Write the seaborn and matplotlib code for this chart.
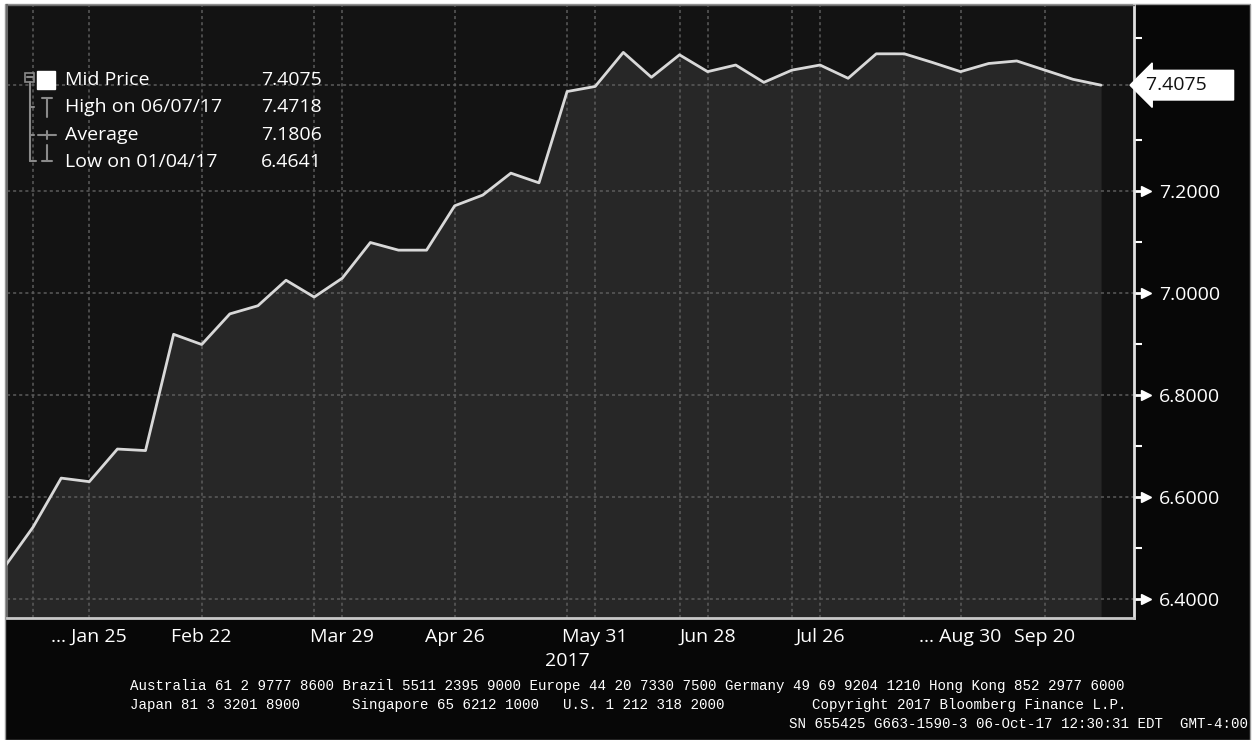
import pandas as pd
import seaborn as sns
import matplotlib.pyplot as plt
import matplotlib.dates as mdates
import matplotlib.transforms as mtransforms
from matplotlib.lines import Line2D
from matplotlib.patches import Rectangle
from matplotlib.ticker import FixedLocator, MultipleLocator

# weekly mid price, 04 Jan 2017 .. 04 Oct 2017
mid_price = [6.4641, 6.541, 6.637, 6.630, 6.694, 6.691, 6.919, 6.899, 6.959, 6.975,
             7.025, 6.992, 7.029, 7.099, 7.084, 7.084, 7.171, 7.192, 7.235, 7.216,
             7.395, 7.405, 7.4718, 7.423, 7.467, 7.434, 7.447, 7.413, 7.437, 7.447,
             7.421, 7.469, 7.469, 7.452, 7.434, 7.450, 7.455, 7.437, 7.419, 7.4075]
dates = pd.date_range("2017-01-04", periods=len(mid_price), freq="7D")

tick_dates = ["2017-01-25", "2017-02-22", "2017-03-29", "2017-04-26", "2017-05-31",
              "2017-06-28", "2017-07-26", "2017-08-30", "2017-09-20"]
tick_labels = ["... Jan 25", "Feb 22", "Mar 29", "Apr 26", "May 31",
               "Jun 28", "Jul 26", "... Aug 30", "Sep 20"]
grid_weeks = [1, 3, 7, 11, 12, 16, 20, 21, 24, 25, 28, 29, 32, 34, 37]
minor_weeks = [1, 2, 3, 5, 7, 9, 11, 12, 14, 16, 18, 20, 21, 22, 24, 25, 26,
               28, 29, 30, 32, 34, 35, 37, 39]
y_ticks = [6.4, 6.6, 6.8, 7.0, 7.2]
last_price = 7.4075

legend_names = ["Mid Price", "High on 06/07/17", "Average", "Low on 01/04/17"]
legend_values = ["7.4075", "7.4718", "7.1806", "6.4641"]

footer_1 = "Australia 61 2 9777 8600 Brazil 5511 2395 9000 Europe 44 20 7330 7500 Germany 49 69 9204 1210 Hong Kong 852 2977 6000"
footer_2 = ["Japan 81 3 3201 8900", "Singapore 65 6212 1000", "U.S. 1 212 318 2000",
            "Copyright 2017 Bloomberg Finance L.P."]
footer_3 = "SN 655425 G663-1590-3 06-Oct-17 12:30:31 EDT  GMT-4:00"

sns.set_style("dark")
plt.rcParams["font.family"] = ["Open Sans", "DejaVu Sans"]

W, H = 1258, 740
fig = plt.figure(figsize=(W / 100, H / 100), dpi=100, facecolor="white")


def fx(x):
    return x / W


def fy(y):
    return 1 - y / H


def seg(x0, y0, x1, y1, color="#8a8a8a", lw=1.5):
    fig.add_artist(Line2D([fx(x0), fx(x1)], [fy(y0), fy(y1)], transform=fig.transFigure,
                          color=color, lw=lw))


# black terminal background
fig.add_artist(Rectangle((fx(5), 0), fx(1250) - fx(5), fy(4), transform=fig.transFigure,
                         fc="#070707", ec="#9a9a9a", lw=1, zorder=-10))

ax = fig.add_axes([fx(7), fy(618), fx(1134) - fx(7), fy(5) - fy(618)])
ax.set_facecolor("#131313")

ymin, ymax = 6.3627, 7.5647
ax.fill_between(dates, mid_price, ymin, color="#272727", lw=0, zorder=1)
sns.lineplot(x=dates, y=mid_price, ax=ax, color="#d8d8d8", lw=2, zorder=4)

for y in y_ticks + [last_price]:
    ax.axhline(y, color="#5c5c5c", lw=1.1, ls=(0, (2, 2)), zorder=2)
for w in grid_weeks:
    ax.axvline(dates[w], color="#5c5c5c", lw=1.1, ls=(0, (2, 2)), zorder=2)

ax.set_xlim(dates[0] + pd.Timedelta(days=0.5), dates[-1] + pd.Timedelta(days=8.2))
ax.set_ylim(ymin, ymax)
ax.grid(False)

# x axis
ax.set_xticks(pd.to_datetime(tick_dates))
ax.set_xticklabels(tick_labels)
ax.xaxis.set_minor_locator(FixedLocator([mdates.date2num(dates[w]) for w in minor_weeks]))
ax.tick_params(axis="x", which="both", colors="white", length=6, width=1.5, direction="out",
               labelsize=14, pad=1)

# y axis on the right
ax.yaxis.tick_right()
ax.set_yticks(y_ticks)
ax.set_yticklabels([f"{v:.4f}" for v in y_ticks])
ax.yaxis.set_minor_locator(MultipleLocator(0.1))
ax.tick_params(axis="y", which="major", colors="white", length=6, width=2, labelsize=14, pad=12)
ax.tick_params(axis="y", which="minor", colors="white", length=6, width=1.5)
ax.set_xlabel("")
ax.set_ylabel("")

for side, col, lw in [("left", "#6a6a6a", 1.5), ("top", "#6a6a6a", 1), ("right", "#e0e0e0", 2),
                      ("bottom", "#c8c8c8", 2)]:
    ax.spines[side].set_visible(True)
    ax.spines[side].set_color(col)
    ax.spines[side].set_linewidth(lw)

trans = mtransforms.blended_transform_factory(ax.transAxes, ax.transData)
# small pointers next to the price labels
ax.plot([1.011] * len(y_ticks), y_ticks, ls="none", marker=">", ms=7, color="white",
        transform=trans, clip_on=False)

# last price flag
ax.annotate(f"{last_price:.4f}    ", xy=(1, last_price), xycoords=trans, xytext=(9, 0),
            textcoords="offset points", ha="left", va="center", fontsize=14, color="#111111",
            bbox=dict(boxstyle="larrow,pad=0.3", fc="white", ec="white"), annotation_clip=False)

fig.text(fx(567), fy(661), "2017", ha="center", va="center", fontsize=14, color="white")

# legend block
rows_y = [80, 107, 135, 162]
for name, val, y in zip(legend_names, legend_values, rows_y):
    fig.text(fx(65), fy(y), name, ha="left", va="center", fontsize=14, color="white")
    fig.text(fx(322), fy(y), val, ha="right", va="center", fontsize=14, color="white")

fig.add_artist(Rectangle((fx(25), fy(82)), fx(9), fy(0) - fy(9), transform=fig.transFigure,
                         fc="none", ec="#8a8a8a", lw=1.2))
seg(26.5, 76.5, 32.5, 76.5)
seg(29.5, 82, 29.5, 161)
for y in [107, 135]:
    seg(29.5, y, 34, y)
seg(29.5, 161, 36, 161)
fig.add_artist(Rectangle((fx(37), fy(89)), fx(18), fy(0) - fy(18), transform=fig.transFigure,
                         fc="white", ec="white"))
seg(42, 98, 52, 98)
seg(47, 98, 47, 117)
seg(38, 135, 56, 135)
seg(47, 131, 47, 139)
seg(47, 145, 47, 161)
seg(42, 161, 52, 161)

# footer
mono = "Liberation Mono"
fig.text(fx(130), fy(686), footer_1, ha="left", va="center", fontsize=10.2, color="white", family=mono)
for txt, x in zip(footer_2, [130, 352, 563, 812]):
    fig.text(fx(x), fy(705), txt, ha="left", va="center", fontsize=10.2, color="white", family=mono)
fig.text(fx(1248), fy(724), footer_3, ha="right", va="center", fontsize=10.2, color="white", family=mono)

fig.savefig("out.png", dpi=100, facecolor=fig.get_facecolor())
